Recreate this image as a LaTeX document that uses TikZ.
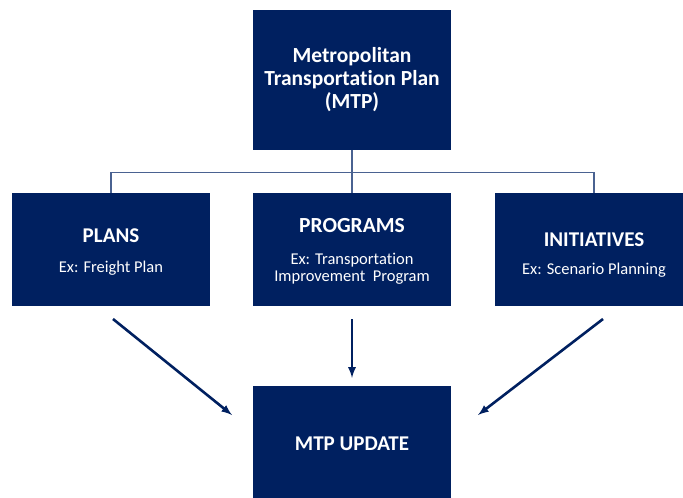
\documentclass[tikz,border=0pt]{standalone}
\usepackage{fontspec}
\setmainfont[Ligatures=NoCommon]{Carlito}
\definecolor{mtpblue}{HTML}{002060}
\definecolor{linkblue}{HTML}{4A6291}
\newcommand{\boxtitle}[1]{{\fontsize{21}{23}\selectfont\bfseries #1}}
\begin{document}
\begin{tikzpicture}[x=1pt, y=-1pt,
        box/.style={rectangle, fill=mtpblue, minimum width=198pt, minimum height=113pt, inner sep=0pt},
        boxtext/.style={text=white, align=center, inner sep=0pt, font=\fontsize{16.5}{17}\selectfont},
        link/.style={draw=linkblue, line width=1.2pt},
        arrow/.style={->, draw=mtpblue, line width=2.6pt, >=latex}
    ]
        \useasboundingbox (0,0) rectangle (683,498);

        % MTP box
        \node[box, minimum height=140pt] (mtp) at (352,80) {};
        \node[boxtext, font=\fontsize{21.5}{23}\selectfont\bfseries] (mtptext) at (352,80) {Metropolitan\\Transportation Plan\\(MTP)};

        % Plans, programs, initiatives
        \node[box] (plans) at (111,249.5) {};
        \node[boxtext] (planstext) at (111,252.5) {\boxtitle{PLANS}\\[13pt]Ex: Freight Plan};

        \node[box] (programs) at (352,249.5) {};
        \node[boxtext] (programstext) at (352,251.8) {\boxtitle{\fontsize{21.5}{23}\selectfont PROGRAMS}\\[15pt]Ex: Transportation\\Improvement\ \ Program};

        \node[box] (initiatives) at (594,249.5) {};
        \node[boxtext] (initiativestext) at (594,255) {\boxtitle{INITIATIVES}\\[10.3pt]Ex: Scenario Planning};

        % MTP update
        \node[box] (update) at (352,442.5) {};
        \node[boxtext] (updatetext) at (352,444) {\boxtitle{MTP UPDATE}};

        % Tree lines
        \draw[link] (mtp.south) -- ++(0,22) coordinate (fork);
        \draw[link] (fork) -| (plans.north);
        \draw[link] (fork) -| (initiatives.north);
        \draw[link] (fork) -- (programs.north);

        % Arrow ends
        \coordinate (pl1) at (113,319);
        \coordinate (pl2) at (232,415);
        \coordinate (in1) at (603,319);
        \coordinate (in2) at (478,415);

        % Arrows to update
        \draw[arrow] (pl1) -- (pl2);
        \draw[arrow, shorten <=13pt, shorten >=8pt] (programs.south) -- (update.north);
        \draw[arrow] (in1) -- (in2);

    \end{tikzpicture}
\end{document}
